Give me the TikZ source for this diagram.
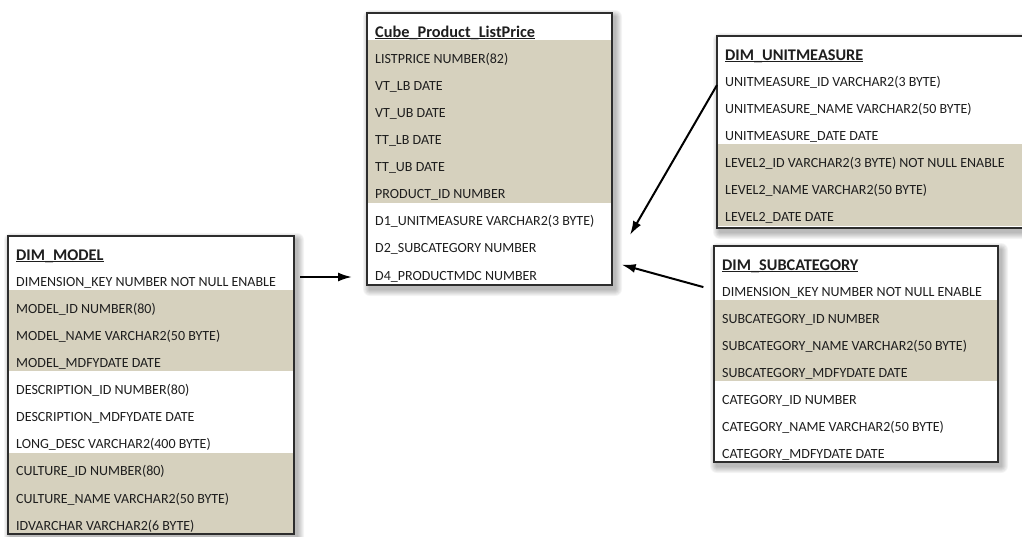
\documentclass[tikz,border=0pt]{standalone}
\usepackage{fontspec}
\setmainfont{Carlito}
\usetikzlibrary{calc,arrows.meta}

\definecolor{rowtan}{RGB}{214,209,190}
\definecolor{edge}{RGB}{45,45,45}
\definecolor{ink}{RGB}{30,30,30}

% title underline drawn at the height of the underscore, so both merge
\newcommand\ttlline[1]{\setbox0\hbox{#1}\rlap{\rule[-2.1pt]{\wd0}{1.3pt}}\box0}

\tikzset{
  tbl/.style={rectangle, fill=white, inner sep=0pt, outer sep=0pt, anchor=north west},
  rowtxt/.style={font=\fontsize{14}{16}\selectfont, text=ink, inner sep=0pt, anchor=base west},
  ttl/.style={font=\fontsize{16.3}{18}\selectfont\bfseries, text=ink, inner sep=0pt, anchor=base west},
  tbledge/.style={draw=edge, line width=1.4pt},
  conn/.style={draw=black, line width=2pt, -{Latex[length=14pt,width=9pt]}},
}

% #1 name, #2 left, #3 top, #4 width, #5 height, #6 title, #7 rows, #8 tan bands (first/last row)
\newcommand\erdtable[8]{%
  \foreach \k in {1,...,7}{%
    \fill[black, opacity=0.045, rounded corners=\k pt]
      (#2+3-\k, #3+4-\k) rectangle (#2+#4+3+\k, #3+#5+4+\k);
  }
  \node[tbl, minimum width=#4pt, minimum height=#5pt] (#1) at (#2,#3) {};
  \foreach \a/\b in {#8}{%
    \fill[rowtan] (#2+0.7, {#3+27.1*\a}) rectangle
      (#2+#4-0.7, {min(#3+27.1*\b+27, #3+#5-0.7)});
  }
  \draw[tbledge] (#1.north west) rectangle (#1.south east);
  \node[ttl] (#1-t) at (#2+8, #3+24.3) {\ttlline{#6}};
  \foreach \r [count=\i] in {#7}{%
    \node[rowtxt] (#1-r\i) at (#2+8, {#3+23.1+27.1*\i}) {\r};
  }
}

\begin{document}
\begin{tikzpicture}[x=1pt, y=-1pt]
\useasboundingbox (0,0) rectangle (1022,536);

% fact table
\erdtable{cube}{367}{13}{245}{272}{Cube\_Product\_ListPrice}
  {LISTPRICE NUMBER(82), VT\_LB DATE, VT\_UB DATE, TT\_LB DATE, TT\_UB DATE,
   PRODUCT\_ID NUMBER, D1\_UNITMEASURE VARCHAR2(3 BYTE), D2\_SUBCATEGORY NUMBER,
   D4\_PRODUCTMDC NUMBER}
  {1/6}

% dimension tables
\erdtable{unit}{717}{36}{310}{192}{DIM\_UNITMEASURE}
  {UNITMEASURE\_ID VARCHAR2(3 BYTE), UNITMEASURE\_NAME VARCHAR2(50 BYTE),
   UNITMEASURE\_DATE DATE, LEVEL2\_ID VARCHAR2(3 BYTE) NOT NULL ENABLE,
   LEVEL2\_NAME VARCHAR2(50 BYTE), LEVEL2\_DATE DATE}
  {4/6}

\erdtable{sub}{714}{246}{284}{216}{DIM\_SUBCATEGORY}
  {DIMENSION\_KEY NUMBER NOT NULL ENABLE, SUBCATEGORY\_ID NUMBER,
   SUBCATEGORY\_NAME VARCHAR2(50 BYTE), SUBCATEGORY\_MDFYDATE DATE,
   CATEGORY\_ID NUMBER, CATEGORY\_NAME VARCHAR2(50 BYTE), CATEGORY\_MDFYDATE DATE}
  {2/4}

\erdtable{model}{8}{236}{286}{298}{DIM\_MODEL}
  {DIMENSION\_KEY NUMBER NOT NULL ENABLE, MODEL\_ID NUMBER(80),
   MODEL\_NAME VARCHAR2(50 BYTE), MODEL\_MDFYDATE DATE,
   DESCRIPTION\_ID NUMBER(80), DESCRIPTION\_MDFYDATE DATE,
   LONG\_DESC VARCHAR2(400 BYTE), CULTURE\_ID NUMBER(80),
   CULTURE\_NAME VARCHAR2(50 BYTE), IDVARCHAR VARCHAR2(6 BYTE)}
  {2/4, 8/10}

% references into the fact table
\coordinate (tipU) at (630,235);
\draw[conn, shorten <=6pt, shorten >=15pt] (model.east |- 0,277) -- (cube.west |- 0,277);
\draw[conn] (unit.west |- 0,85) -- (tipU);
\draw[conn, shorten <=11pt, shorten >=10pt] (sub.west |- 0,290) -- (cube.east |- 0,262);
\end{tikzpicture}
\end{document}
